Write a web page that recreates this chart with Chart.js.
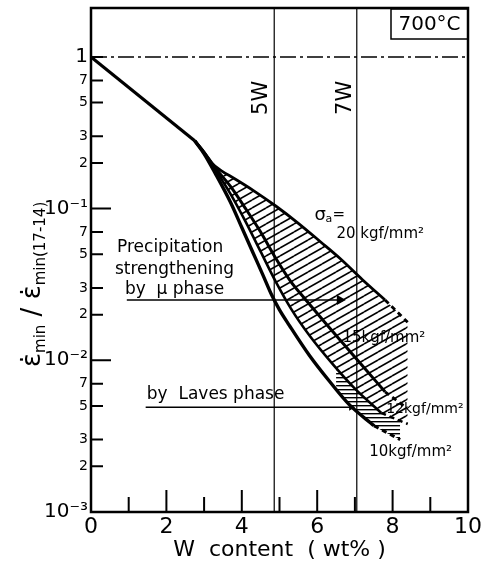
<!DOCTYPE html>
<html lang="en">
<head>
<meta charset="UTF-8">
<title>Creep rate ratio vs W content, 700°C</title>
<script src="https://cdn.jsdelivr.net/npm/chart.js"></script>
<style>
  html, body { margin: 0; background: #fff; }
  #wrap { width: 484px; height: 570px; }
</style>
</head>
<body>
<div id="wrap"><canvas id="chart" width="484" height="570"></canvas></div>
<script>
  const FONT = '"DejaVu Sans", sans-serif';

  // common part of all curves
  const joinW = [0, 2.75];
  const joinRate = [1, 0.28];

  // sigma_a = 20, 15, 12, 10 kgf/mm2 (solid part, then dashed tail)
  const w20 = [2.75, 3.0, 3.2, 3.45, 3.8, 4.3, 4.9, 5.5, 6.1, 6.6, 7.2, 7.8];
  const rate20 = [0.28, 0.235, 0.2, 0.178, 0.158, 0.132, 0.104, 0.08, 0.06, 0.047, 0.034, 0.025];
  const w20Tail = [7.8, 8.4];
  const rate20Tail = [0.025, 0.0178];

  const w15 = [2.75, 3.0, 3.3, 3.7, 4.1, 4.5, 4.9, 5.3, 5.7, 6.2, 6.7, 7.2, 7.8];
  const rate15 = [0.28, 0.235, 0.185, 0.14, 0.1, 0.07, 0.047, 0.033, 0.025, 0.0178, 0.0128, 0.0092, 0.0062];
  const w15Tail = [7.8, 8.35];
  const rate15Tail = [0.0062, 0.0049];

  const w12 = [2.75, 3.0, 3.3, 3.7, 4.1, 4.5, 4.9, 5.3, 5.8, 6.4, 7.0, 7.7];
  const rate12 = [0.28, 0.232, 0.18, 0.125, 0.082, 0.052, 0.033, 0.022, 0.0145, 0.0095, 0.0065, 0.0045];
  const w12Tail = [7.7, 8.4];
  const rate12Tail = [0.0045, 0.0038];

  const w10 = [2.75, 3.0, 3.3, 3.7, 4.0, 4.3, 4.55, 4.79, 5.0, 5.26, 5.79, 6.32, 6.85, 7.51];
  const rate10 = [0.28, 0.23, 0.17, 0.11, 0.075, 0.051, 0.037, 0.027, 0.0215, 0.017, 0.0108, 0.0073, 0.0051, 0.0037];
  const w10Tail = [7.51, 8.2];
  const rate10Tail = [0.0037, 0.003];

  // Laves phase band (horizontal hatching)
  const lavesTopW = [6.5, 7.0, 7.7, 8.2];
  const lavesTopRate = [0.0089, 0.0065, 0.0045, 0.004];
  const lavesBotW = [6.5, 6.85, 7.51, 8.2];
  const lavesBotRate = [0.0064, 0.0051, 0.0037, 0.003];

  const alloyW = [4.86, 7.05];           // 5W, 7W
  const muArrowW = [0.95, 6.6];
  const muArrowRate = 0.025;
  const lavesArrowW = [1.45, 6.9];
  const lavesArrowRate = 0.0049;

  const yTickValues = [0.001, 0.002, 0.003, 0.005, 0.007, 0.01, 0.02, 0.03, 0.05, 0.07, 0.1, 0.2, 0.3, 0.5, 0.7, 1];
  const yTickLabels = ['10⁻³', '2', '3', '5', '7', '10⁻²', '2', '3', '5', '7', '10⁻¹', '2', '3', '5', '7', '1'];
  const Y_MIN = 0.001, Y_MAX = 2.1;

  const pts = (xs, ys) => xs.map((x, i) => ({ x, y: Array.isArray(ys) ? ys[i] : ys }));

  const canvas = document.getElementById('chart');
  const c2d = canvas.getContext('2d');

  function diagHatch() {
    const t = document.createElement('canvas');
    t.width = 14; t.height = 8;
    const g = t.getContext('2d');
    g.strokeStyle = '#000';
    g.lineWidth = 1.6;
    for (const off of [-8, 0, 8]) {
      g.beginPath(); g.moveTo(0, 8 + off); g.lineTo(14, off); g.stroke();
    }
    return c2d.createPattern(t, 'repeat');
  }
  function flatHatch() {
    const t = document.createElement('canvas');
    t.width = 4; t.height = 4;
    const g = t.getContext('2d');
    g.fillStyle = '#000';
    g.fillRect(0, 1, 4, 1.4);
    return c2d.createPattern(t, 'repeat');
  }

  function line(data, extra) {
    return Object.assign({
      data, borderColor: '#000', borderWidth: 3, pointRadius: 0,
      fill: false, cubicInterpolationMode: 'monotone', order: 1
    }, extra);
  }

  const datasets = [
    line(pts([...w20, w20Tail[1]], [...rate20, rate20Tail[1]]), { borderWidth: 0, fill: '+1', backgroundColor: diagHatch(), order: 5 }),
    line(pts([...w12, w12Tail[1]], [...rate12, rate12Tail[1]]), { borderWidth: 0, order: 5 }),
    line(pts(lavesTopW, lavesTopRate), { borderWidth: 0, fill: '+1', backgroundColor: flatHatch(), order: 5 }),
    line(pts(lavesBotW, lavesBotRate), { borderWidth: 0, order: 5 }),
    line(pts(joinW, joinRate), { borderWidth: 3.2 }),
    line(pts(w20, rate20), { borderWidth: 2.8 }),
    line(pts(w20Tail, rate20Tail), { borderWidth: 2.8, borderDash: [5, 4] }),
    line(pts(w15, rate15), { borderWidth: 3 }),
    line(pts(w15Tail, rate15Tail), { borderWidth: 2.8, borderDash: [5, 4] }),
    line(pts(w12, rate12), { borderWidth: 2.6 }),
    line(pts(w12Tail, rate12Tail), { borderWidth: 2.6, borderDash: [5, 4] }),
    line(pts(w10, rate10), { borderWidth: 3.4 }),
    line(pts(w10Tail, rate10Tail), { borderWidth: 3, borderDash: [5, 4] }),
    line(pts([0, 10], 1), { borderWidth: 1.5, borderDash: [16, 4, 3, 4] }),
    line(pts([alloyW[0], alloyW[0]], [Y_MIN, Y_MAX]), { borderWidth: 1.2 }),
    line(pts([alloyW[1], alloyW[1]], [Y_MIN, Y_MAX]), { borderWidth: 1.2 }),
    line(pts(muArrowW, muArrowRate), {
      borderWidth: 1.5, pointRadius: [0, 6], pointStyle: 'triangle', rotation: 90,
      pointBackgroundColor: '#000', pointBorderWidth: 0
    }),
    line(pts(lavesArrowW, lavesArrowRate), {
      borderWidth: 1.5, pointRadius: [0, 4], pointStyle: 'triangle', rotation: 90,
      pointBackgroundColor: '#000', pointBorderWidth: 0
    })
  ];

  function put(ctx, s, px, py, size, align) {
    ctx.font = size + 'px ' + FONT;
    ctx.textAlign = align || 'left';
    ctx.textBaseline = 'middle';
    ctx.fillText(s, px, py);
  }

  const decor = {
    id: 'decor',
    afterDraw(chart) {
      const { ctx, chartArea: a, scales: { x, y } } = chart;
      const X = v => x.getPixelForValue(v);
      const Y = v => y.getPixelForValue(v);
      ctx.save();
      ctx.strokeStyle = '#000';
      ctx.fillStyle = '#000';

      // inward tick marks
      ctx.lineWidth = 2;
      ctx.beginPath();
      for (let v = 0; v <= 10; v++) {
        const px = X(v);
        ctx.moveTo(px, a.bottom);
        ctx.lineTo(px, a.bottom - (v % 2 ? 15 : 22));
      }
      yTickValues.forEach((v, i) => {
        const py = Y(v);
        ctx.moveTo(a.left, py);
        ctx.lineTo(a.left + (yTickLabels[i].length > 1 ? 20 : 12), py);
      });
      ctx.stroke();

      // frame
      ctx.lineWidth = 2.5;
      ctx.strokeRect(a.left, a.top, a.right - a.left, a.bottom - a.top);

      // temperature box
      const bw = 77, bh = 30;
      ctx.lineWidth = 1.5;
      ctx.strokeRect(a.right - bw, a.top + 1, bw, bh);
      put(ctx, '700°C', a.right - bw / 2, a.top + 2 + bh / 2, 20, 'center');

      // alloy labels
      [['5W', 4.52], ['7W', 6.75]].forEach(([s, w]) => {
        ctx.save();
        ctx.translate(X(w), Y(0.537));
        ctx.rotate(-Math.PI / 2);
        put(ctx, s, 0, 0, 21, 'center');
        ctx.restore();
      });

      // stress labels
      put(ctx, 'σ', X(5.93), Y(0.0908), 18);
      put(ctx, 'a', X(5.93) + 11, Y(0.0908) + 4, 11);
      put(ctx, '=', X(5.93) + 18, Y(0.0908), 15);
      put(ctx, '20 kgf/mm²', X(6.51), Y(0.068), 15);
      put(ctx, '15kgf/mm²', X(6.67), Y(0.01405), 15);
      put(ctx, '12kgf/mm²', X(7.83), Y(0.00478), 14);
      put(ctx, '10kgf/mm²', X(7.38), Y(0.00249), 15);

      // mechanism labels
      put(ctx, 'Precipitation', X(0.69), Y(0.0551), 17);
      put(ctx, 'strengthening', X(0.635), Y(0.0394), 17);
      put(ctx, 'by  μ phase', X(0.9), Y(0.0291), 17);
      put(ctx, 'by  Laves phase', X(1.48), Y(0.00591), 17);

      // y axis title, rotated
      ctx.save();
      ctx.translate(40, 367);
      ctx.rotate(-Math.PI / 2);
      ctx.textAlign = 'left';
      ctx.textBaseline = 'alphabetic';
      let cx = 0;
      const piece = (s, size, dy) => {
        ctx.font = size + 'px ' + FONT;
        ctx.fillText(s, cx, dy);
        cx += ctx.measureText(s).width;
      };
      piece('ε̇', 26, 0);
      piece('min', 15, 5);
      piece(' / ', 26, 0);
      piece('ε̇', 26, 0);
      piece('min(17-14)', 15, 5);
      ctx.restore();

      ctx.restore();
    }
  };

  new Chart(canvas, {
    type: 'line',
    data: { datasets },
    options: {
      responsive: false,
      animation: false,
      events: [],
      layout: { padding: { left: 0, right: 14, top: 8, bottom: 0 } },
      plugins: { legend: { display: false }, tooltip: { enabled: false } },
      scales: {
        x: {
          type: 'linear', min: 0, max: 10,
          grid: { display: false, drawTicks: false },
          border: { display: false },
          ticks: {
            stepSize: 1, autoSkip: false, maxRotation: 0, padding: 2, color: '#000',
            font: { family: FONT, size: 22 },
            callback: v => (v % 2 === 0 ? String(v) : '')
          },
          title: {
            display: true, text: 'W  content  ( wt% )', color: '#000',
            font: { family: FONT, size: 22 }, padding: { top: 0, bottom: 7 }
          },
          afterFit: s => { s.height = 58; }
        },
        y: {
          type: 'logarithmic', min: Y_MIN, max: Y_MAX,
          grid: { display: false, drawTicks: false },
          border: { display: false },
          afterBuildTicks: s => { s.ticks = yTickValues.map(v => ({ value: v })); },
          ticks: {
            autoSkip: false, padding: 3, color: '#000',
            callback: (v, i) => yTickLabels[i],
            font: c => {
              const lab = yTickLabels[c.index] || '';
              return { family: FONT, size: lab.length > 1 || lab === '1' ? 20 : 14 };
            }
          },
          afterFit: s => { s.width = 91; s.paddingTop = 0; s.paddingBottom = 0; }
        }
      }
    },
    plugins: [decor]
  });
</script>
</body>
</html>
